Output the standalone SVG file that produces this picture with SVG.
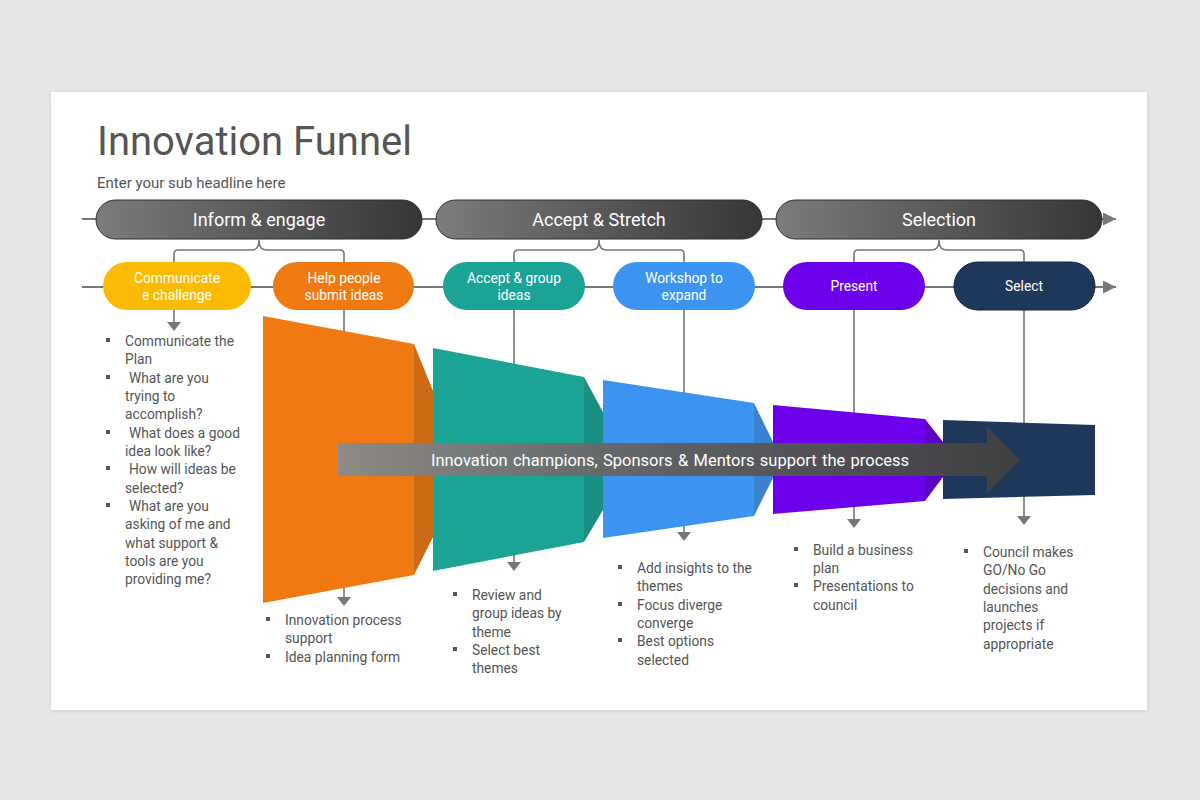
<svg xmlns="http://www.w3.org/2000/svg" width="1200" height="800" viewBox="0 0 1200 800">
<defs>
<linearGradient id="pg" x1="0" y1="0" x2="1" y2="0"><stop offset="0" stop-color="#7c7c7c"/><stop offset="1" stop-color="#363636"/></linearGradient>
<linearGradient id="ag" x1="0" y1="0" x2="1" y2="0"><stop offset="0" stop-color="#8a8a8a"/><stop offset="0.5" stop-color="#5e5e5e"/><stop offset="1" stop-color="#404040"/></linearGradient>
<marker id="ah" viewBox="0 0 10 10" refX="10" refY="5" markerWidth="13" markerHeight="13" markerUnits="userSpaceOnUse" orient="auto"><path d="M0,0 L10,5 L0,10 Z" fill="#777"/></marker>
<filter id="sh" x="-5%" y="-5%" width="110%" height="110%"><feDropShadow dx="0" dy="1" stdDeviation="2" flood-color="#000" flood-opacity="0.12"/></filter>
</defs>
<style>
text{font-family:Roboto,"Liberation Sans",sans-serif}
.title{font-size:40px;fill:#555}
.sub{font-size:15px;fill:#555}
.ptxt{font-size:18px;fill:#fff;text-anchor:middle}
.ntxt{font-size:13.8px;fill:#fff;text-anchor:middle}
.ln{stroke:#777;stroke-width:2;fill:none}
.vl{stroke:#777;stroke-width:1.6;fill:none}
.bl{font-size:13.8px;fill:#555}
.bul{fill:#555}
.pill{fill:url(#pg);stroke:#2e2e2e;stroke-width:1}
.tri{fill:#777}
</style>
<rect width="1200" height="800" fill="#e8e6e7"/>
<rect x="51" y="92" width="1096" height="618" fill="#fff" filter="url(#sh)"/>
<text class="title" x="97" y="155">Innovation Funnel</text>
<text class="sub" x="97" y="188">Enter your sub headline here</text>

<g id="connectors">
<line class="ln" x1="82" y1="219" x2="1116" y2="219" marker-end="url(#ah)"/>
<line class="ln" x1="82" y1="287" x2="1116" y2="287" marker-end="url(#ah)"/>
<path class="vl" d="M174,262 V254 Q174,250 178,250 H252 Q259,250 259,240 Q259,250 266,250 H340 Q344,250 344,254 V262"/>
<path class="vl" d="M514,262 V254 Q514,250 518,250 H592 Q599,250 599,240 Q599,250 606,250 H680 Q684,250 684,254 V262"/>
<path class="vl" d="M854,262 V254 Q854,250 858,250 H932 Q939,250 939,240 Q939,250 946,250 H1020 Q1024,250 1024,254 V262"/>
<line class="vl" x1="174" y1="310" x2="174" y2="324"/>
<path class="tri" d="M167,322 L181,322 L174,331 Z"/>
<line class="vl" x1="344" y1="310" x2="344" y2="598"/>
<path class="tri" d="M337,597 L351,597 L344,606 Z"/>
<line class="vl" x1="514" y1="310" x2="514" y2="564"/>
<path class="tri" d="M507,562 L521,562 L514,571 Z"/>
<line class="vl" x1="684" y1="310" x2="684" y2="533"/>
<path class="tri" d="M677,532 L691,532 L684,541 Z"/>
<line class="vl" x1="854" y1="310" x2="854" y2="521"/>
<path class="tri" d="M847,519 L861,519 L854,528 Z"/>
<line class="vl" x1="1024" y1="310" x2="1024" y2="518"/>
<path class="tri" d="M1017,516 L1031,516 L1024,525 Z"/>
</g>

<g id="phase-inform"><rect class="pill" x="96" y="200" width="326" height="39" rx="19.5"/><text class="ptxt" x="259" y="226">Inform &amp; engage</text></g>
<g id="phase-accept"><rect class="pill" x="436" y="200" width="326" height="39" rx="19.5"/><text class="ptxt" x="599" y="226">Accept &amp; Stretch</text></g>
<g id="phase-selection"><rect class="pill" x="776" y="200" width="326" height="39" rx="19.5"/><text class="ptxt" x="939" y="226">Selection</text></g>

<g id="node-communicate"><rect x="103" y="262" width="148" height="48" rx="24" fill="#fbbb05"/><text class="ntxt" x="177" y="283">Communicate</text><text class="ntxt" x="177" y="300">e challenge</text></g>
<g id="node-help"><rect x="273" y="262" width="141" height="48" rx="24" fill="#f07a12"/><text class="ntxt" x="344" y="283">Help people</text><text class="ntxt" x="344" y="300">submit ideas</text></g>
<g id="node-accept"><rect x="443" y="262" width="142" height="48" rx="24" fill="#1ba496"/><text class="ntxt" x="514" y="283">Accept &amp; group</text><text class="ntxt" x="514" y="300">ideas</text></g>
<g id="node-workshop"><rect x="613" y="262" width="142" height="48" rx="24" fill="#3d94f0"/><text class="ntxt" x="684" y="283">Workshop to</text><text class="ntxt" x="684" y="300">expand</text></g>
<g id="node-present"><rect x="783" y="262" width="142" height="48" rx="24" fill="#6c00eb"/><text class="ntxt" x="854" y="291">Present</text></g>
<g id="node-select"><rect x="954" y="262" width="141" height="48" rx="24" fill="#1f375b" stroke="#132338" stroke-width="1"/><text class="ntxt" x="1024" y="291">Select</text></g>

<g id="funnel">
<polygon points="263,316 414,344 414,575 263,603" fill="#f07a12"/>
<polygon points="414,344 433,391 433,537 414,575" fill="#cf6a14"/>
<polygon points="433,348 584,377 584,542 433,571" fill="#1ba496"/>
<polygon points="584,377 603,412 603,510 584,542" fill="#1a8f84"/>
<polygon points="603,380 754,403 754,516 603,538" fill="#3d94f0"/>
<polygon points="754,403 773,442 773,478 754,516" fill="#3a82d0"/>
<polygon points="773,405 925,419 925,501 773,514" fill="#6c00eb"/>
<polygon points="925,419 943,442 943,477 925,501" fill="#5c05c4"/>
<polygon points="943,420 1095,425 1095,495 943,499" fill="#1f375b"/>
</g>

<g id="support-arrow">
<path d="M338,443 H987 V427 L1020,459.5 L987,493 V476 H338 Z" fill="url(#ag)" opacity="0.97"/>
<text x="670" y="466" font-size="16.5" fill="#fff" text-anchor="middle" word-spacing="1.2">Innovation champions, Sponsors &amp; Mentors support the process</text>
</g>

<g id="list-1">
<rect class="bul" x="106" y="338" width="4" height="4"/><rect class="bul" x="106" y="375" width="4" height="4"/><rect class="bul" x="106" y="430" width="4" height="4"/><rect class="bul" x="106" y="466" width="4" height="4"/><rect class="bul" x="106" y="503" width="4" height="4"/>
<text class="bl" x="125" y="346">Communicate the</text>
<text class="bl" x="125" y="364">Plan</text>
<text class="bl" x="129" y="383">What are you</text>
<text class="bl" x="125" y="401">trying to</text>
<text class="bl" x="125" y="419">accomplish?</text>
<text class="bl" x="129" y="438">What does a good</text>
<text class="bl" x="125" y="456">idea look like?</text>
<text class="bl" x="129" y="474">How will ideas be</text>
<text class="bl" x="125" y="493">selected?</text>
<text class="bl" x="129" y="511">What are you</text>
<text class="bl" x="125" y="529">asking of me and</text>
<text class="bl" x="125" y="548">what support &amp;</text>
<text class="bl" x="125" y="566">tools are you</text>
<text class="bl" x="125" y="584">providing me?</text>
</g>
<g id="list-2">
<rect class="bul" x="266" y="617" width="4" height="4"/><rect class="bul" x="266" y="654" width="4" height="4"/>
<text class="bl" x="285" y="625">Innovation process</text>
<text class="bl" x="285" y="643">support</text>
<text class="bl" x="285" y="662">Idea planning form</text>
</g>
<g id="list-3">
<rect class="bul" x="453" y="592" width="4" height="4"/><rect class="bul" x="453" y="647" width="4" height="4"/>
<text class="bl" x="472" y="600">Review and</text>
<text class="bl" x="472" y="618">group ideas by</text>
<text class="bl" x="472" y="637">theme</text>
<text class="bl" x="472" y="655">Select best</text>
<text class="bl" x="472" y="673">themes</text>
</g>
<g id="list-4">
<rect class="bul" x="618" y="565" width="4" height="4"/><rect class="bul" x="618" y="602" width="4" height="4"/><rect class="bul" x="618" y="638" width="4" height="4"/>
<text class="bl" x="637" y="573">Add insights to the</text>
<text class="bl" x="637" y="591">themes</text>
<text class="bl" x="637" y="610">Focus diverge</text>
<text class="bl" x="637" y="628">converge</text>
<text class="bl" x="637" y="646">Best options</text>
<text class="bl" x="637" y="665">selected</text>
</g>
<g id="list-5">
<rect class="bul" x="794" y="547" width="4" height="4"/><rect class="bul" x="794" y="583" width="4" height="4"/>
<text class="bl" x="813" y="555">Build a business</text>
<text class="bl" x="813" y="573">plan</text>
<text class="bl" x="813" y="591">Presentations to</text>
<text class="bl" x="813" y="610">council</text>
</g>
<g id="list-6">
<rect class="bul" x="964" y="549" width="4" height="4"/>
<text class="bl" x="983" y="557">Council makes</text>
<text class="bl" x="983" y="575">GO/No Go</text>
<text class="bl" x="983" y="594">decisions and</text>
<text class="bl" x="983" y="612">launches</text>
<text class="bl" x="983" y="630">projects if</text>
<text class="bl" x="983" y="649">appropriate</text>
</g>
</svg>
